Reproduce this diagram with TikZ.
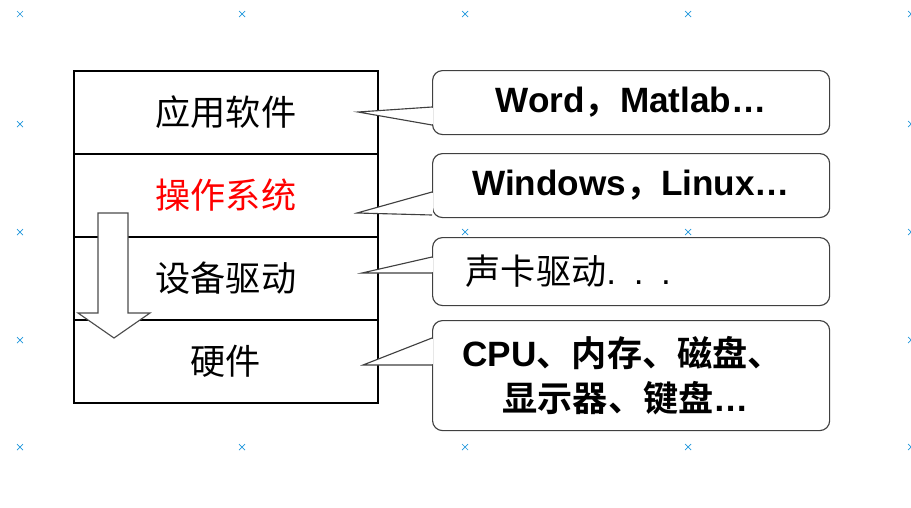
\documentclass[tikz,border=0pt]{standalone}
\usepackage{fontspec}
\setmainfont{Noto Sans CJK SC}[BoldFont={* Bold}]
\newfontfamily\lat{Liberation Sans}
\usetikzlibrary{positioning}
\definecolor{markblue}{RGB}{30,150,220}
\begin{document}
\begin{tikzpicture}[
    x=0.025cm, y=-0.025cm,
    layer node/.style={draw, fill=white, line width=1.2pt, minimum width=7.6cm, minimum height=2.075cm, inner sep=0pt, font=\fontsize{25}{30}\selectfont},
    note node/.style={draw=black!75, fill=white, line width=0.8pt, rounded corners=0.25cm, minimum width=9.925cm, inner sep=0pt, align=center, font=\fontsize{25}{32}\selectfont\bfseries},
    left note/.style={align=left, text width=8.425cm, inner xsep=0.75cm},
    tail/.style={draw=black!75, line width=0.8pt, fill=white},
    grid mark/.style={markblue, line width=0.5pt}
]
\useasboundingbox (0,0) rectangle (911,507);

% grid marks
\foreach \mx in {20,242,465,688,911}
  \foreach \my in {14,124,232,340,447}
    \draw[grid mark] (\mx-3,\my-3) -- (\mx+3,\my+3) (\mx-3,\my+3) -- (\mx+3,\my-3);

% Layers
\node[layer node, anchor=north west] (app) at (73,70) {应用软件};
\node[layer node, below=-1.2pt of app, text=red] (os) {操作系统};
\node[layer node, below=-1.2pt of os] (drv) {设备驱动};
\node[layer node, below=-1.2pt of drv] (hw) {硬件};

% Down arrow
\draw[line width=0.8pt, black!70, fill=white] (98,213) -- (128,213) -- (128,313) -- (150,313)
  -- (114,338) -- (78,313) -- (98,313) -- cycle;

% Notes
\node[note node, anchor=north west, minimum height=1.6cm] (n1) at (432,70) {{\lat Word}，{\lat Matlab…}};
\node[note node, anchor=north west, minimum height=1.6cm] (n2) at (432,153) {{\lat Windows}，{\lat Linux…}};
\node[note node, left note, anchor=north west, minimum height=1.7cm, font=\fontsize{25}{32}\selectfont] (n3) at (432,237) {\hspace*{0.08cm}声卡驱动{\lat . . .}};
\node[note node, left note, anchor=north west, minimum height=2.75cm] (n4) at (432,320) {{\lat CPU}、内存、磁盘、\\\hspace*{1.0cm}显示器、键盘{\lat …}};

% Tails
\coordinate (a1) at (432,107); \coordinate (t1) at (358,112); \coordinate (b1) at (432,125);
\coordinate (a2) at (432,192); \coordinate (t2) at (357,213); \coordinate (b2) at (432,215);
\coordinate (a3) at (432,257); \coordinate (t3) at (362,273); \coordinate (b3) at (432,273);
\coordinate (a4) at (432,338); \coordinate (t4) at (363,365); \coordinate (b4) at (432,365);
\foreach \i in {1,2,3,4} {
  \filldraw[tail] (a\i) -- (t\i) -- (b\i);
  \fill[white] ([yshift=-1pt]a\i) rectangle ([xshift=1pt,yshift=1pt]b\i);
}
\end{tikzpicture}
\end{document}
